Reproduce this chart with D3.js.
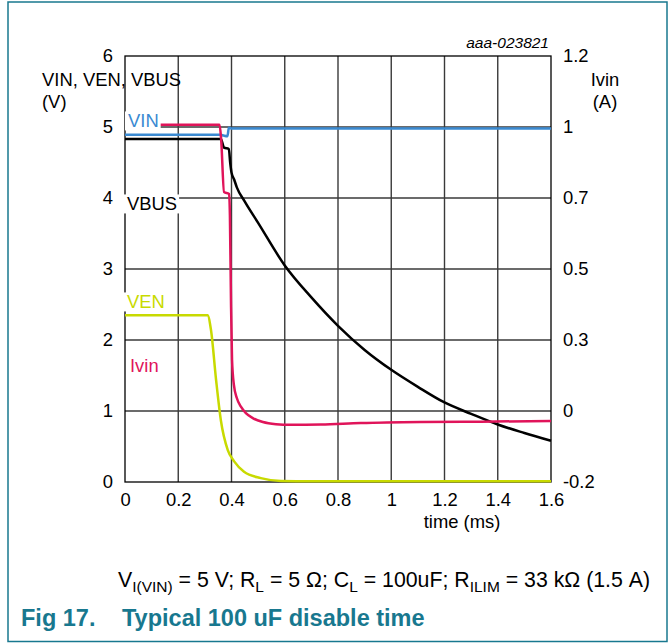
<!DOCTYPE html>
<html>
<head>
<meta charset="utf-8">
<script src="https://cdn.jsdelivr.net/npm/d3@7"></script>
<style>
  body { margin: 0; background: #fff; }
  svg text { font-family: "Liberation Sans", Arial, sans-serif; }
</style>
</head>
<body>
<svg id="chart" width="669" height="643"></svg>
<script>
// axis ticks
const xTicks = [0, 0.2, 0.4, 0.6, 0.8, 1, 1.2, 1.4, 1.6];
const leftTicks = [0, 1, 2, 3, 4, 5, 6];
// right axis labels sit on the same gridlines as the left ones
const rightTicks = [-0.2, 0, 0.3, 0.5, 0.7, 1, 1.2];

// VIN (V)
const vinT = [0, 0.36, 0.37, 0.385, 0.39, 0.4, 1.6];
const vinV = [4.89, 4.89, 4.88, 4.87, 4.99, 4.98, 4.98];

// VBUS (V)
const vbusT = [0, 0.36, 0.372, 0.39, 0.395, 0.4, 0.41, 0.42, 0.45, 0.5, 0.6, 0.7, 0.8, 0.9, 1.0, 1.1, 1.2, 1.3, 1.4, 1.5, 1.6];
const vbusV = [4.83, 4.83, 4.71, 4.69, 4.5, 4.36, 4.26, 4.15, 3.95, 3.65, 3.05, 2.6, 2.2, 1.86, 1.58, 1.34, 1.12, 0.96, 0.81, 0.69, 0.58];

// VEN (V)
const venT = [0, 0.31, 0.323, 0.342, 0.36, 0.386, 0.41, 0.447, 0.51, 0.586, 0.7, 1.6];
const venV = [2.35, 2.35, 2.14, 1.44, 0.87, 0.45, 0.29, 0.145, 0.055, 0.015, 0.01, 0.01];

// Ivin (A)
const ivinT = [0, 0.355, 0.361, 0.372, 0.391, 0.394, 0.398, 0.402, 0.409, 0.42, 0.436, 0.454, 0.48, 0.518, 0.567, 0.623, 0.736, 0.886, 1.11, 1.337, 1.6];
const ivinA = [1.006, 1.006, 0.95, 0.725, 0.717, 0.652, 0.412, 0.216, 0.11, 0.055, 0.017, -0.006, -0.02, -0.031, -0.037, -0.039, -0.038, -0.034, -0.031, -0.03, -0.028];

const teal = "#18788f";
const svg = d3.select("#chart");

const x = d3.scaleLinear().domain([0, 1.6]).range([125, 551]);
const y = d3.scaleLinear().domain([0, 6]).range([482, 56]);
const yR = d3.scaleLinear().domain(rightTicks).range(leftTicks.map(y));

// frame
svg.append("rect").attr("x", 8).attr("y", 2).attr("width", 659).attr("height", 639.5)
  .attr("fill", "none").attr("stroke", teal).attr("stroke-width", 1.5);

// gridlines
const grid = svg.append("g").attr("stroke", "#3a3a3a").attr("stroke-width", 1.4);
grid.selectAll(".gx").data(xTicks.slice(1, -1)).enter().append("line")
  .attr("x1", d => x(d)).attr("x2", d => x(d)).attr("y1", y(6)).attr("y2", y(0));
grid.selectAll(".gy").data(leftTicks.slice(1, -1)).enter().append("line")
  .attr("x1", x(0)).attr("x2", x(1.6)).attr("y1", d => y(d)).attr("y2", d => y(d));

svg.append("rect").attr("x", x(0)).attr("y", y(6))
  .attr("width", x(1.6) - x(0)).attr("height", y(0) - y(6))
  .attr("fill", "none").attr("stroke", "#000").attr("stroke-width", 1.3);

// axes
const fs = "18.4px";
const xAxis = svg.append("g").attr("transform", `translate(0,${y(0)})`)
  .call(d3.axisBottom(x).tickValues(xTicks).tickSize(0).tickPadding(11).tickFormat(d => String(d)));
const yAxisL = svg.append("g").attr("transform", `translate(${x(0)},0)`)
  .call(d3.axisLeft(y).tickValues(leftTicks).tickSize(0).tickPadding(12).tickFormat(d => String(d)));
const yAxisR = svg.append("g").attr("transform", `translate(${x(1.6)},0)`)
  .call(d3.axisRight(yR).tickValues(rightTicks).tickSize(0).tickPadding(12).tickFormat(d => String(d)));
[xAxis, yAxisL, yAxisR].forEach(a => {
  a.select(".domain").remove();
  a.selectAll("text").attr("font-size", fs).attr("fill", "#000")
    .style("font-family", "'Liberation Sans', Arial, sans-serif");
});

// traces
const line = (ts, vs, sy) => d3.line().curve(d3.curveMonotoneX)
  .x((d, i) => x(ts[i])).y((d, i) => sy(vs[i]))(vs);
const traces = [
  { t: venT, v: venV, s: y, c: "#c8da00" },
  { t: vbusT, v: vbusV, s: y, c: "#000000" },
  { t: vinT, v: vinV, s: y, c: "#3a8ad2" },
  { t: ivinT, v: ivinA, s: yR, c: "#e0145a" },
];
svg.append("g").selectAll("path").data(traces).enter().append("path")
  .attr("d", d => line(d.t, d.v, d.s))
  .attr("fill", "none").attr("stroke", d => d.c).attr("stroke-width", 2.5)
  .attr("stroke-linejoin", "round");

// series labels with white backing
const labels = [
  { text: "VIN", x: 128, y: 121, c: "#3a8ad2" },
  { text: "VBUS", x: 127, y: 204, c: "#000000" },
  { text: "VEN", x: 127, y: 302, c: "#c8da00" },
  { text: "Ivin", x: 130, y: 366, c: "#e0145a" },
];
labels.forEach(l => {
  const t = svg.append("text").attr("x", l.x).attr("y", l.y).attr("dy", "0.35em")
    .attr("font-size", fs).attr("fill", l.c).text(l.text);
  const b = t.node().getBBox();
  svg.insert("rect", () => t.node()).attr("x", b.x - 3).attr("y", b.y + 1)
    .attr("width", b.width + 5).attr("height", b.height - 2).attr("fill", "#fff");
});

// axis titles
svg.append("text").attr("x", 42).attr("y", 86).attr("font-size", fs).text("VIN, VEN, VBUS");
svg.append("text").attr("x", 42).attr("y", 108).attr("font-size", fs).text("(V)");
svg.append("text").attr("x", 605).attr("y", 86).attr("font-size", fs).attr("text-anchor", "middle").text("Ivin");
svg.append("text").attr("x", 605).attr("y", 108).attr("font-size", fs).attr("text-anchor", "middle").text("(A)");
svg.append("text").attr("x", 462).attr("y", 528).attr("font-size", fs).attr("text-anchor", "middle").text("time (ms)");
svg.append("text").attr("x", 549).attr("y", 48).attr("font-size", "15.5px").attr("font-style", "italic")
  .attr("text-anchor", "end").text("aaa-023821");

// conditions line
const cond = svg.append("text").attr("x", 118).attr("y", 587).attr("font-size", "21.3px");
const parts = [["V", 0], ["I(VIN)", 1], [" = 5 V; R", 0], ["L", 1], [" = 5 \u03A9; C", 0], ["L", 1],
  [" = 100uF; R", 0], ["ILIM", 1], [" = 33 k\u03A9 (1.5 A)", 0]];
parts.forEach(([s, sub], i) => {
  const ts = cond.append("tspan").text(s);
  if (sub) ts.attr("font-size", "15.5px").attr("dy", 5);
  else if (i > 0) ts.attr("dy", -5);
});

// figure title
svg.append("text").attr("x", 21).attr("y", 626).attr("font-size", "23.5px").attr("font-weight", "bold")
  .attr("fill", teal).text("Fig 17.");
svg.append("text").attr("x", 122).attr("y", 626).attr("font-size", "23.5px").attr("font-weight", "bold")
  .attr("fill", teal).text("Typical 100 uF disable time");
</script>
</body>
</html>
